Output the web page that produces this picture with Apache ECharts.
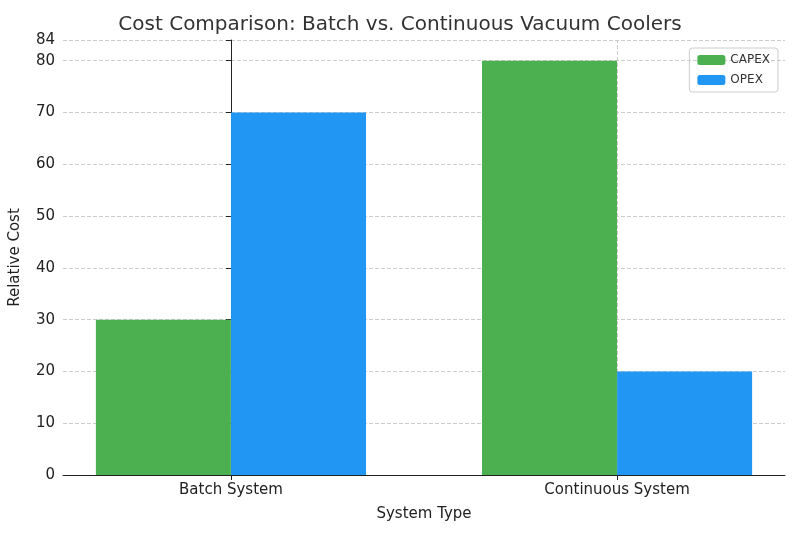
<!DOCTYPE html>
<html><head><meta charset="utf-8">
<script src="https://cdn.jsdelivr.net/npm/echarts@6/dist/echarts.min.js"></script>
<style>html,body{margin:0;background:#fff}#c{width:800px;height:533px}</style>
</head><body><div id="c"></div>
<script>
var categories = ['Batch System', 'Continuous System'];
var capex = [30, 80];
var opex = [70, 20];
var yTicks = [0, 10, 20, 30, 40, 50, 60, 70, 80];

var font = 'DejaVu Sans';
var half = 0.175;
var chart = echarts.init(document.getElementById('c'));
chart.setOption({
  animation: false,
  textStyle: { fontFamily: font },
  title: { text: 'Cost Comparison: Batch vs. Continuous Vacuum Coolers', left: 'center', top: 10,
    textStyle: { fontFamily: font, fontSize: 20, fontWeight: 'normal', color: '#333' } },
  legend: { right: 22, top: 48, orient: 'vertical', itemWidth: 28, itemHeight: 10, itemGap: 8,
    borderColor: '#ccc', borderWidth: 1, borderRadius: 3, padding: [6, 8],
    textStyle: { fontSize: 12, color: '#333' }, data: ['CAPEX', 'OPEX'] },
  grid: { left: 63, right: 15, top: 40, bottom: 58 },
  xAxis: {
    type: 'value', min: -0.435, max: 1.435,
    name: 'System Type', nameLocation: 'middle', nameGap: 32,
    nameTextStyle: { fontSize: 15, color: '#222' },
    axisLine: { lineStyle: { color: '#222' } },
    axisTick: { show: true, customValues: [0, 1], lineStyle: { color: '#222' } },
    axisLabel: { customValues: [0, 1], fontSize: 15, color: '#222',
      formatter: function (v) { return categories[Math.round(v)]; } },
    splitLine: { show: false }
  },
  yAxis: {
    type: 'value', min: 0, max: 84, interval: 10,
    name: 'Relative Cost', nameLocation: 'middle', nameGap: 40,
    nameTextStyle: { fontSize: 15, color: '#222' },
    axisLine: { show: true, lineStyle: { color: '#222' } },
    axisTick: { show: true, lineStyle: { color: '#222' } },
    axisLabel: { fontSize: 15, color: '#222' },
    splitLine: { lineStyle: { type: 'dashed', color: '#ccc' } }
  },
  series: [
    { name: 'CAPEX', type: 'bar', barWidth: 135, barGap: '-100%', itemStyle: { color: '#4caf50' },
      data: capex.map(function (v, i) { return [i - half, v]; }),
      markLine: { silent: true, symbol: 'none', label: { show: false },
        lineStyle: { type: 'dashed', color: '#ccc', width: 1 }, z: 0,
        data: categories.map(function (c, i) { return { xAxis: i }; }) } },
    { name: 'OPEX', type: 'bar', barWidth: 135, barGap: '-100%', itemStyle: { color: '#2196f3' },
      data: opex.map(function (v, i) { return [i + half, v]; }) }
  ]
});
</script></body></html>
